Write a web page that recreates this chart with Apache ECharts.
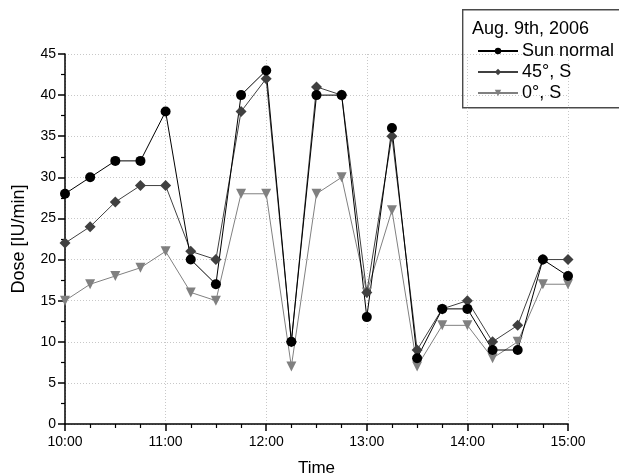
<!DOCTYPE html>
<html>
<head>
<meta charset="utf-8">
<script src="https://cdn.jsdelivr.net/npm/echarts@6/dist/echarts.min.js"></script>
<style>
  html, body { margin: 0; padding: 0; background: #fff; }
  #chart { width: 619px; height: 474px; }
</style>
</head>
<body>
<div id="chart"></div>
<script>
// Measurement times (every 15 minutes)
const times = ['10:00','10:15','10:30','10:45','11:00','11:15','11:30','11:45','12:00','12:15',
               '12:30','12:45','13:00','13:15','13:30','13:45','14:00','14:15','14:30','14:45','15:00'];

// Dose values [IU/min]
const sunNormal = [28, 30, 32, 32, 38, 20, 17, 40, 43, 10, 40, 40, 13, 36, 8, 14, 14, 9, 9, 20, 18];
const tilt45S   = [22, 24, 27, 29, 29, 21, 20, 38, 42, 10, 41, 40, 16, 35, 9, 14, 15, 10, 12, 20, 20];
const horiz0S   = [15, 17, 18, 19, 21, 16, 15, 28, 28, 7, 28, 30, 16, 26, 7, 12, 12, 8, 10, 17, 17];

const legendTitle = 'Aug. 9th, 2006';
const seriesNames = ['Sun normal', '45°, S', '0°, S'];

function toHours(t) {
  const [h, m] = t.split(':').map(Number);
  return h + m / 60;
}
function pairs(vals) {
  return vals.map((v, i) => [toHours(times[i]), v]);
}

const FONT = 'Liberation Sans, Arial, sans-serif';
const chart = echarts.init(document.getElementById('chart'), null, { renderer: 'canvas' });

const mk = (name, vals, color, symbol, size) => ({
  name, type: 'line', data: pairs(vals),
  symbol, symbolSize: size,
  symbolRotate: symbol === 'triangle' ? 180 : 0,
  lineStyle: { color, width: 1 },
  itemStyle: { color },
  animation: false
});

const gridLine = { show: true, lineStyle: { color: '#c8c8c8', type: [1, 2], width: 1 } };

chart.setOption({
  animation: false,
  grid: { left: 65, right: 51, top: 54, bottom: 50, outerBoundsMode: 'none', containLabel: false },
  xAxis: {
    type: 'value', min: 10, max: 15, interval: 1,
    name: 'Time', nameLocation: 'middle', nameGap: 36,
    nameTextStyle: { fontFamily: FONT, fontSize: 17, color: '#000' },
    axisLine: { show: true, lineStyle: { color: '#000', width: 1.5 } },
    axisTick: { show: true, length: 7, lineStyle: { color: '#000', width: 1.5 } },
    minorTick: { show: true, splitNumber: 4, length: 4, lineStyle: { color: '#000', width: 1.2 } },
    axisLabel: { fontFamily: FONT, fontSize: 14, color: '#000', margin: 11,
      formatter: v => Math.round(v) + ':00' },
    splitLine: gridLine
  },
  yAxis: {
    type: 'value', min: 0, max: 45, interval: 5,
    name: 'Dose [IU/min]', nameLocation: 'middle', nameGap: 37,
    nameTextStyle: { fontFamily: FONT, fontSize: 18, color: '#000' },
    axisLine: { show: true, lineStyle: { color: '#000', width: 1.5 } },
    axisTick: { show: true, length: 7, lineStyle: { color: '#000', width: 1.5 } },
    minorTick: { show: true, splitNumber: 2, length: 4, lineStyle: { color: '#000', width: 1.2 } },
    axisLabel: { fontFamily: FONT, fontSize: 14, color: '#000', margin: 9 },
    splitLine: gridLine
  },
  legend: {
    left: 472, top: 37, orient: 'vertical', itemGap: 3,
    itemWidth: 40, itemHeight: 8,
    textStyle: { fontFamily: FONT, fontSize: 18, lineHeight: 18, color: '#000', padding: [0, 0, 0, -1] },
    data: seriesNames
  },
  graphic: [
    { type: 'rect', left: 462, top: 9, z: 0,
      shape: { width: 170, height: 98 },
      style: { fill: '#fff', stroke: '#4a4a4a', lineWidth: 1.4 } },
    { type: 'text', left: 472, top: 20, z: 1,
      style: { text: legendTitle, font: '18px ' + FONT, fill: '#000' } }
  ],
  series: [
    mk(seriesNames[2], horiz0S, '#808080', 'triangle', 10),
    mk(seriesNames[1], tilt45S, '#404040', 'diamond', 11),
    mk(seriesNames[0], sunNormal, '#000000', 'circle', 10)
  ]
});
</script>
</body>
</html>
